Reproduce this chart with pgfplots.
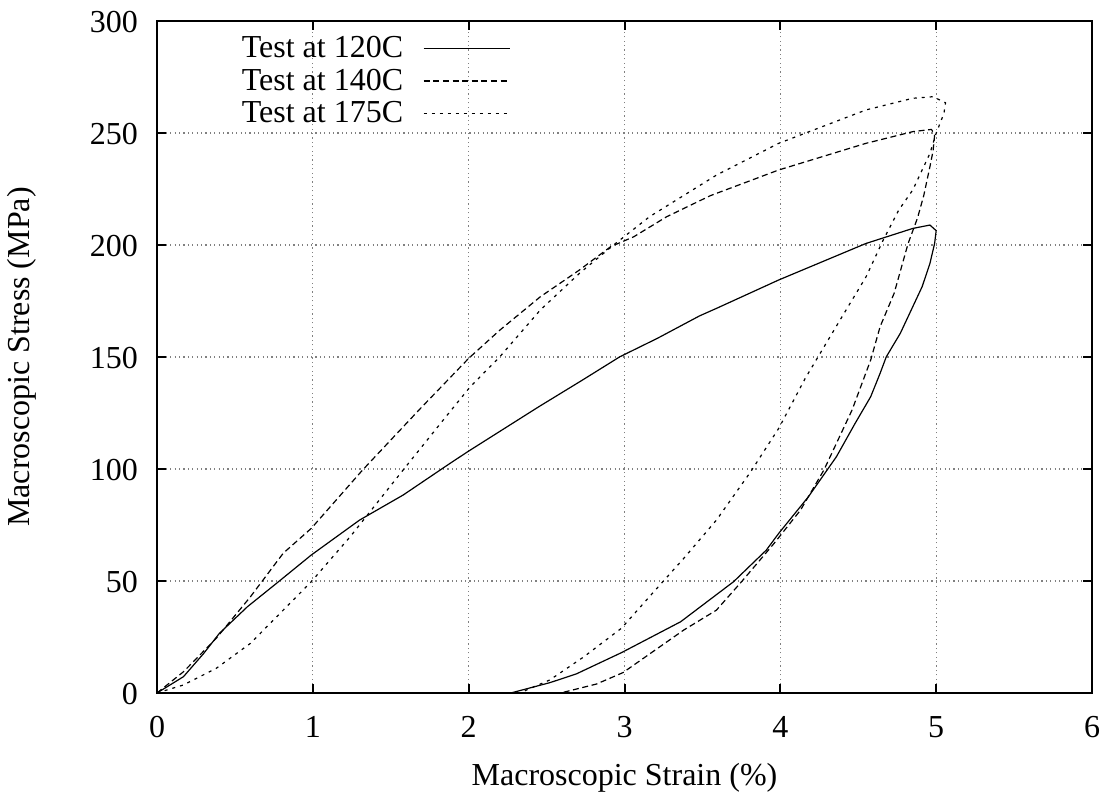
\documentclass[border=0pt]{standalone}
\usepackage{pgfplots}
\pgfplotsset{compat=1.18}
\usepackage{fontspec}
\setmainfont{Liberation Serif}
\begin{document}
\begin{tikzpicture}
\begin{axis}[
  scale only axis,
  width=467.5pt, height=336pt,
  xmin=0, xmax=6, ymin=0, ymax=300,
  xtick={0,1,2,3,4,5,6}, ytick={0,50,100,150,200,250,300},
  font=\fontsize{16}{19}\selectfont,
  /pgf/number format/assume math mode=true,
  tick pos=both, tick align=inside,
  major tick length=4.5pt,
  every tick/.style={black, line width=1pt},
  axis line style={line width=1pt},
  grid=major,
  grid style={gray, line width=0.6pt, dash pattern=on 0.6pt off 1.6pt},
  xticklabel style={yshift=-8pt},
  yticklabel style={xshift=-6pt, yshift=-0.7pt},
  xlabel={Macroscopic Strain (\%)},
  ylabel={Macroscopic Stress (MPa)},
  xlabel style={at={(axis description cs:0.5,0)}, anchor=center, yshift=-42.5pt},
  ylabel style={at={(axis description cs:0,0.5)}, anchor=center, rotate=0, yshift=67.5pt},
  legend plot pos=right,
  legend cell align=right,
  legend image code/.code={\draw[#1] (0pt,0pt) -- (43pt,0pt);},
  legend style={draw=none, fill=none, at={(axis cs:2.27,295)}, anchor=north east,
    row sep=0pt, column sep=8pt, inner sep=0pt},
]
\coordinate (sw) at (rel axis cs:0,0);
\coordinate (ne) at (rel axis cs:1,1);
\addplot[black, line width=0.6pt] coordinates {
(0,0) (0.17,7.3) (0.30,17.7) (0.40,26.6) (0.58,38.5) (0.78,49.7) (0.99,61.6)
(1.30,77.2) (1.58,88.4) (1.88,102.5) (2.00,108) (2.45,127.8) (2.73,139.7)
(2.97,150.1) (3.21,158.3) (3.48,168.3) (3.59,171.7) (3.99,184.4) (4.55,200.7)
(4.85,207.4) (4.96,208.9) (5.00,206.4) (4.99,200.7) (4.96,191.8) (4.91,181.4)
(4.84,171) (4.77,160.6) (4.68,150.1) (4.64,142.7) (4.58,132.3) (4.48,120.4)
(4.36,105.5) (4.18,87.6) (3.99,71.3)
(3.91,63.8) (3.70,49.7) (3.36,31.8) (2.98,18) (2.69,8.5) (2.52,4.6) (2.27,0)
};
\addlegendentry{Test at 120C}
\addplot[black, line width=0.6pt, dash pattern=on 3pt off 1.8pt] coordinates {
(0,0) (0.17,9.5) (0.38,24.4) (0.60,43) (0.81,62.4) (0.99,73.5) (1.32,99.6)
(1.69,127) (2.00,149.4) (2.20,162) (2.46,176.9) (2.71,188.8) (2.91,199.2)
(3.06,203.7) (3.27,212.6) (3.55,222) (3.99,233.5) (4.55,245.4) (4.85,250.6)
(4.97,251.6) (4.99,249) (4.98,242) (4.96,235) (4.92,222) (4.88,212)
(4.82,200.7) (4.73,178.4) (4.64,163.5) (4.58,148.7) (4.46,126.3)
(4.40,117.4) (4.28,99.6) (4.13,81.7)
(3.96,66.8) (3.76,50.4) (3.59,37) (3.38,28.1) (2.99,9.1) (2.82,4) (2.59,0)
};
\addlegendentry{Test at 140C}
\addplot[black, line width=0.6pt, dash pattern=on 1.5pt off 2.5pt] coordinates {
(0,0) (0.17,3.6) (0.38,11) (0.60,22.2) (0.81,37) (0.99,49.7) (1.24,69.8)
(1.58,99.6) (1.88,125.6) (2.01,136.7) (2.20,150.1) (2.46,171) (2.71,187.3)
(2.93,200) (3.16,212.6) (3.59,231.2) (3.99,245.4) (4.55,260.3) (4.85,265.5)
(4.98,266.2) (5.06,263.5) (5.05,258.8) (5.00,249.9) (4.96,240.9) (4.85,224.6)
(4.76,215.6) (4.66,202.2) (4.55,185.8) (4.39,167.3) (4.16,140.5) (3.99,118.2) (3.81,98.8)
(3.59,77.2) (3.38,60.1) (3.16,43) (2.98,28.9) (2.74,16.2) (2.52,5.8) (2.37,1.3) (2.33,0)
};
\addlegendentry{Test at 175C}
\end{axis}
\pgfresetboundingbox
\path ([shift={(-78.5pt,-52.5pt)}]sw) rectangle ([shift={(9pt,10.5pt)}]ne);
\end{tikzpicture}
\end{document}
